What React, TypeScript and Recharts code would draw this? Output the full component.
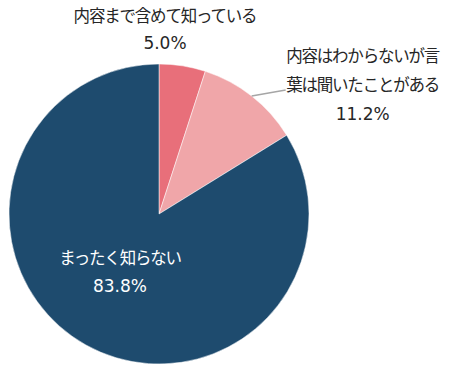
import { PieChart, Pie, Cell } from 'recharts';

const categories = ['内容まで含めて知っている', '内容はわからないが言葉は聞いたことがある', 'まったく知らない'];
const values = [5.0, 11.2, 83.8];
const labelLines = [
  ['内容まで含めて知っている', '5.0%'],
  ['内容はわからないが言', '葉は聞いたことがある', '11.2%'],
  ['まったく知らない', '83.8%'],
];
const colors = ['#E86F7A', '#F0A6A9', '#1E4B6E'];

const data = categories.map((name, i) => ({ name, value: values[i] }));

const RAD = Math.PI / 180;
const FONT = '"DejaVu Sans", "Noto Sans CJK JP", sans-serif';

// 数字の行と日本語の行で文字サイズを変える
const isNum = (t: string) => /%/.test(t);
const textProps = (t: string) =>
  isNum(t) ? { fontSize: 17 } : { fontSize: 16.5, letterSpacing: -1.2 };

// ラベル描画（外側2つ、内側1つ）
const renderLabel = (props: any) => {
  const { cx, cy, midAngle, outerRadius, index } = props;
  const lines = labelLines[index];
  const ex = cx + outerRadius * Math.cos(-midAngle * RAD);
  const ey = cy + outerRadius * Math.sin(-midAngle * RAD);

  if (index === 0) {
    const x = cx + 6;
    const top = cy - outerRadius - 48;
    return (
      <g>
        {lines.map((t, i) => (
          <text key={i} x={x} y={top + i * 27} textAnchor="middle" dominantBaseline="central"
            {...textProps(t)} fill="#262626" fontFamily={FONT}>{t}</text>
        ))}
      </g>
    );
  }
  if (index === 1) {
    const lx = ex + 34;
    const ly = ey - 6;
    const tx = lx + 77;
    return (
      <g>
        <polyline points={`${ex},${ey} ${lx},${ly}`} stroke="#A6A6A6" strokeWidth={1.5} fill="none" />
        {lines.map((t, i) => (
          <text key={i} x={tx} y={ly - 34 + i * 29} textAnchor="middle" dominantBaseline="central"
            {...textProps(t)} fill="#262626" fontFamily={FONT}>{t}</text>
        ))}
      </g>
    );
  }
  const x = cx - 39;
  const top = cy + 44;
  return (
    <g>
      {lines.map((t, i) => (
        <text key={i} x={x} y={top + i * 28} textAnchor="middle" dominantBaseline="central"
          {...textProps(t)} fill="#FFFFFF" fontFamily={FONT}>{t}</text>
      ))}
    </g>
  );
};

export default function App() {
  return (
    <div style={{ position: 'absolute', left: 0, top: 0, width: 452, height: 371, background: '#fff' }}>
      <PieChart width={452} height={371} margin={{ top: 0, right: 0, bottom: 0, left: 0 }}>
        <Pie
          data={data}
          dataKey="value"
          cx={159}
          cy={214}
          outerRadius={150}
          startAngle={90}
          endAngle={-270}
          stroke="#FFFFFF"
          strokeWidth={0.5}
          label={renderLabel}
          labelLine={false}
          isAnimationActive={false}
        >
          {data.map((d, i) => (
            <Cell key={d.name} fill={colors[i]} />
          ))}
        </Pie>
      </PieChart>
    </div>
  );
}
